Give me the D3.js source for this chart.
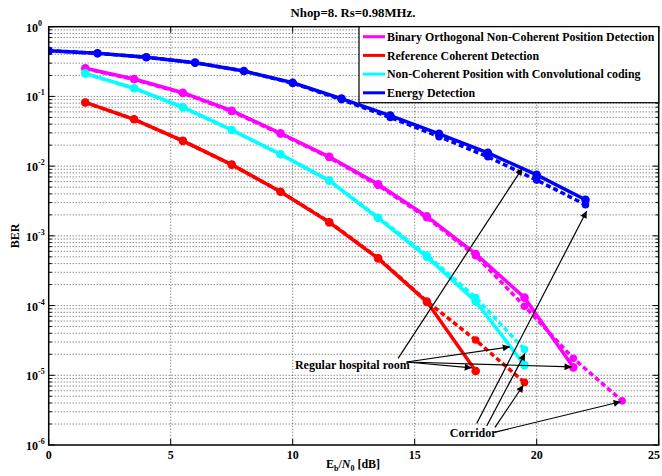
<!DOCTYPE html>
<html><head><meta charset="utf-8">
<script src="https://cdn.jsdelivr.net/npm/d3@7"></script>
<style>body{margin:0;background:#fff}svg{display:block}text{font-family:"Liberation Serif","Times New Roman",serif;fill:#000}</style>
</head><body><svg id="c" width="662" height="476"></svg>
<script>
// ---- data ----
const titleText = "Nhop=8. Rs=0.98MHz.";
const xTicks = [0, 5, 10, 15, 20, 25];
const yExponents = [0, -1, -2, -3, -4, -5, -6];
const seriesNames = ["Binary Orthogonal Non-Coherent Position Detection", "Reference Coherent Detection", "Non-Coherent Position with Convolutional coding", "Energy Detection"];
const seriesColors = ["#ff00ff", "#ff0000", "#00ffff", "#0000ff"];

const magentaX = [1.5, 3.5, 5.5, 7.5, 9.5, 11.5, 13.5, 15.5, 17.5, 19.5, 21.5];
const magentaRoom = [0.253, 0.178, 0.113, 0.0624, 0.0296, 0.0136, 0.0055, 0.0019, 5.5e-4, 1.3e-4, 1.3e-5];
const magentaCorrX = [1.5, 3.5, 5.5, 7.5, 9.5, 11.5, 13.5, 15.5, 17.5, 19.5, 21.5, 23.5];
const magentaCorr = [0.25, 0.175, 0.111, 0.061, 0.029, 0.0133, 0.0053, 0.00182, 5.2e-4, 9.8e-5, 1.75e-5, 4.3e-6];

const redX = [1.5, 3.5, 5.5, 7.5, 9.5, 11.5, 13.5, 15.5, 17.5];
const redRoom = [0.082, 0.047, 0.023, 0.0105, 0.0043, 0.00156, 4.75e-4, 1.13e-4, 1.15e-5];
const redCorrX = [1.5, 3.5, 5.5, 7.5, 9.5, 11.5, 13.5, 15.5, 17.5, 19.5];
const redCorr = [0.082, 0.047, 0.023, 0.0105, 0.0043, 0.00158, 4.8e-4, 1.15e-4, 3.2e-5, 7.9e-6];

const cyanX = [1.5, 3.5, 5.5, 7.5, 9.5, 11.5, 13.5, 15.5, 17.5, 19.5];
const cyanRoom = [0.214, 0.131, 0.070, 0.033, 0.0148, 0.0062, 0.0018, 5.0e-4, 1.15e-4, 1.4e-5];
const cyanCorr = [0.212, 0.130, 0.069, 0.033, 0.0147, 0.0062, 0.00185, 5.3e-4, 1.3e-4, 2.35e-5];

const blueX = [0, 2, 4, 6, 8, 10, 12, 14, 16, 18, 20, 22];
const blueRoom = [0.453, 0.415, 0.364, 0.305, 0.231, 0.157, 0.093, 0.053, 0.029, 0.0155, 0.0075, 0.0033];
const blueCorr = [0.453, 0.415, 0.364, 0.305, 0.231, 0.155, 0.09, 0.05, 0.0265, 0.0136, 0.0063, 0.0028];

// annotations in data coordinates
const roomLabel = {text: "Regular hospital room", x: 10.09, y: 1.4e-5};
const roomArrows = [
  {x0: 14.32, y0: 1.75e-5, x1: 19.41, y1: 0.0093},
  {x0: 14.67, y0: 1.55e-5, x1: 18.9, y1: 2.56e-5},
  {x0: 14.67, y0: 1.55e-5, x1: 17.34, y1: 1.28e-5},
  {x0: 14.67, y0: 1.55e-5, x1: 21.43, y1: 1.32e-5}
];
const corrLabel = {text: "Corridor", x: 16.4, y: 1.5e-6};
const corrArrows = [
  {x0: 17.54, y0: 2.04e-6, x1: 22.05, y1: 2.27e-3},
  {x0: 17.95, y0: 1.87e-6, x1: 19.52, y1: 2.06e-5},
  {x0: 18.29, y0: 1.79e-6, x1: 19.45, y1: 7.2e-6},
  {x0: 18.26, y0: 1.52e-6, x1: 23.44, y1: 4.17e-6}
];

// ---- chart ----
const svg = d3.select("#c");
const L = 48.7, R = 658.7, T = 26.7, B = 445;
const x = d3.scaleLinear([0, 25], [L, R]);
const y = d3.scaleLog([1e-6, 1], [B, T]);

const defs = svg.append("defs");
defs.append("clipPath").attr("id", "clip").append("rect").attr("x", L).attr("y", T).attr("width", R - L).attr("height", B - T);
defs.append("marker").attr("id", "ah").attr("viewBox", "0 0 10 10").attr("refX", 10).attr("refY", 5)
  .attr("markerWidth", 9).attr("markerHeight", 7).attr("markerUnits", "userSpaceOnUse").attr("orient", "auto")
  .append("path").attr("d", "M0,0L10,5L0,10z").attr("fill", "#000");

// grid
const minorVals = [];
for (let k = -6; k < 0; k++) for (let m = 1; m <= 9; m++) minorVals.push(m * Math.pow(10, k));
const g = svg.append("g").attr("stroke", "#000").attr("stroke-width", 0.8).attr("stroke-dasharray", "1,2").attr("opacity", 0.8);
minorVals.forEach(v => { if (v > 1e-6) g.append("line").attr("x1", L).attr("x2", R).attr("y1", y(v)).attr("y2", y(v)); });
xTicks.slice(1, -1).forEach(v => g.append("line").attr("x1", x(v)).attr("x2", x(v)).attr("y1", T).attr("y2", B));

// ticks
const tk = svg.append("g").attr("stroke", "#000").attr("stroke-width", 1);
minorVals.concat([1]).forEach(v => {
  const major = Math.abs(Math.log10(v) - Math.round(Math.log10(v))) < 1e-9;
  const len = major ? 6 : 3;
  tk.append("line").attr("x1", L).attr("x2", L + len).attr("y1", y(v)).attr("y2", y(v));
  tk.append("line").attr("x1", R).attr("x2", R - len).attr("y1", y(v)).attr("y2", y(v));
});
xTicks.forEach(v => {
  tk.append("line").attr("x1", x(v)).attr("x2", x(v)).attr("y1", B).attr("y2", B - 6);
  tk.append("line").attr("x1", x(v)).attr("x2", x(v)).attr("y1", T).attr("y2", T + 6);
});

// series
const line = d3.line().x(d => x(d[0])).y(d => y(d[1]));
const plot = svg.append("g").attr("clip-path", "url(#clip)");
function draw(xs, ys, color, dashed) {
  const pts = xs.map((v, i) => [v, ys[i]]);
  plot.append("path").datum(pts).attr("d", line).attr("fill", "none").attr("stroke", color)
    .attr("stroke-width", 3.5).attr("stroke-dasharray", dashed ? "5,3" : null);
  plot.selectAll(null).data(pts).enter().append("circle").attr("cx", d => x(d[0])).attr("cy", d => y(d[1]))
    .attr("r", dashed ? 3.8 : 4.3).attr("fill", color);
}
draw(blueX, blueCorr, seriesColors[3], true);
draw(blueX, blueRoom, seriesColors[3], false);
draw(magentaCorrX, magentaCorr, seriesColors[0], true);
draw(magentaX, magentaRoom, seriesColors[0], false);
draw(cyanX, cyanCorr, seriesColors[2], true);
draw(cyanX, cyanRoom, seriesColors[2], false);
draw(redCorrX, redCorr, seriesColors[1], true);
draw(redX, redRoom, seriesColors[1], false);

// frame
svg.append("rect").attr("x", L).attr("y", T).attr("width", R - L).attr("height", B - T).attr("fill", "none").attr("stroke", "#000").attr("stroke-width", 1.5);

// annotations
const ann = svg.append("g");
roomArrows.concat(corrArrows).forEach(a => {
  ann.append("line").attr("x1", x(a.x0)).attr("y1", y(a.y0)).attr("x2", x(a.x1)).attr("y2", y(a.y1))
    .attr("stroke", "#000").attr("stroke-width", 1.2).attr("marker-end", "url(#ah)");
});
ann.append("text").attr("x", x(roomLabel.x)).attr("y", y(roomLabel.y)).attr("dy", "0.35em").attr("font-size", 12).attr("font-weight", "bold").text(roomLabel.text);
ann.append("text").attr("x", x(corrLabel.x) + 1).attr("y", y(corrLabel.y)).attr("dy", "0.35em").attr("font-size", 12).attr("font-weight", "bold").text(corrLabel.text);

// tick labels
yExponents.forEach(e => {
  const t = svg.append("text").attr("x", 26).attr("y", y(Math.pow(10, e)) + 5).attr("font-size", 12).attr("font-weight", "bold");
  t.append("tspan").text("10");
  t.append("tspan").attr("dy", -6).attr("font-size", 8).text(e);
});
xTicks.forEach(v => svg.append("text").attr("x", Math.min(x(v), 654)).attr("y", 459).attr("text-anchor", "middle").attr("font-size", 12).attr("font-weight", "bold").text(v));

// axis labels & title
const xl = svg.append("text").attr("x", 353).attr("y", 468).attr("text-anchor", "middle").attr("font-size", 12).attr("font-weight", "bold");
xl.append("tspan").text("E");
xl.append("tspan").attr("dy", 3).attr("font-size", 8).text("b");
xl.append("tspan").attr("dy", -3).text("/");
xl.append("tspan").attr("font-style", "italic").text("N");
xl.append("tspan").attr("dy", 3).attr("font-size", 8).text("0");
xl.append("tspan").attr("dy", -3).text(" [dB]");
svg.append("text").attr("transform", "translate(19,236) rotate(-90)").attr("text-anchor", "middle").attr("font-size", 12).attr("font-weight", "bold").text("BER");
svg.append("text").attr("x", 353).attr("y", 17).attr("text-anchor", "middle").attr("font-size", 12.8).attr("font-weight", "bold").text(titleText);

// legend
const lg = svg.append("g");
lg.append("rect").attr("x", 359).attr("y", T).attr("width", R - 359).attr("height", 76).attr("fill", "#fff").attr("stroke", "#000").attr("stroke-width", 1.2);
seriesNames.forEach((n, i) => {
  const yy = 36.7 + i * 18.7;
  lg.append("line").attr("x1", 363).attr("x2", 385).attr("y1", yy).attr("y2", yy).attr("stroke", seriesColors[i]).attr("stroke-width", 3);
  lg.append("text").attr("x", 387).attr("y", yy).attr("dy", "0.35em").attr("font-size", 11.9).attr("font-weight", "bold").text(n);
});
</script></body></html>
